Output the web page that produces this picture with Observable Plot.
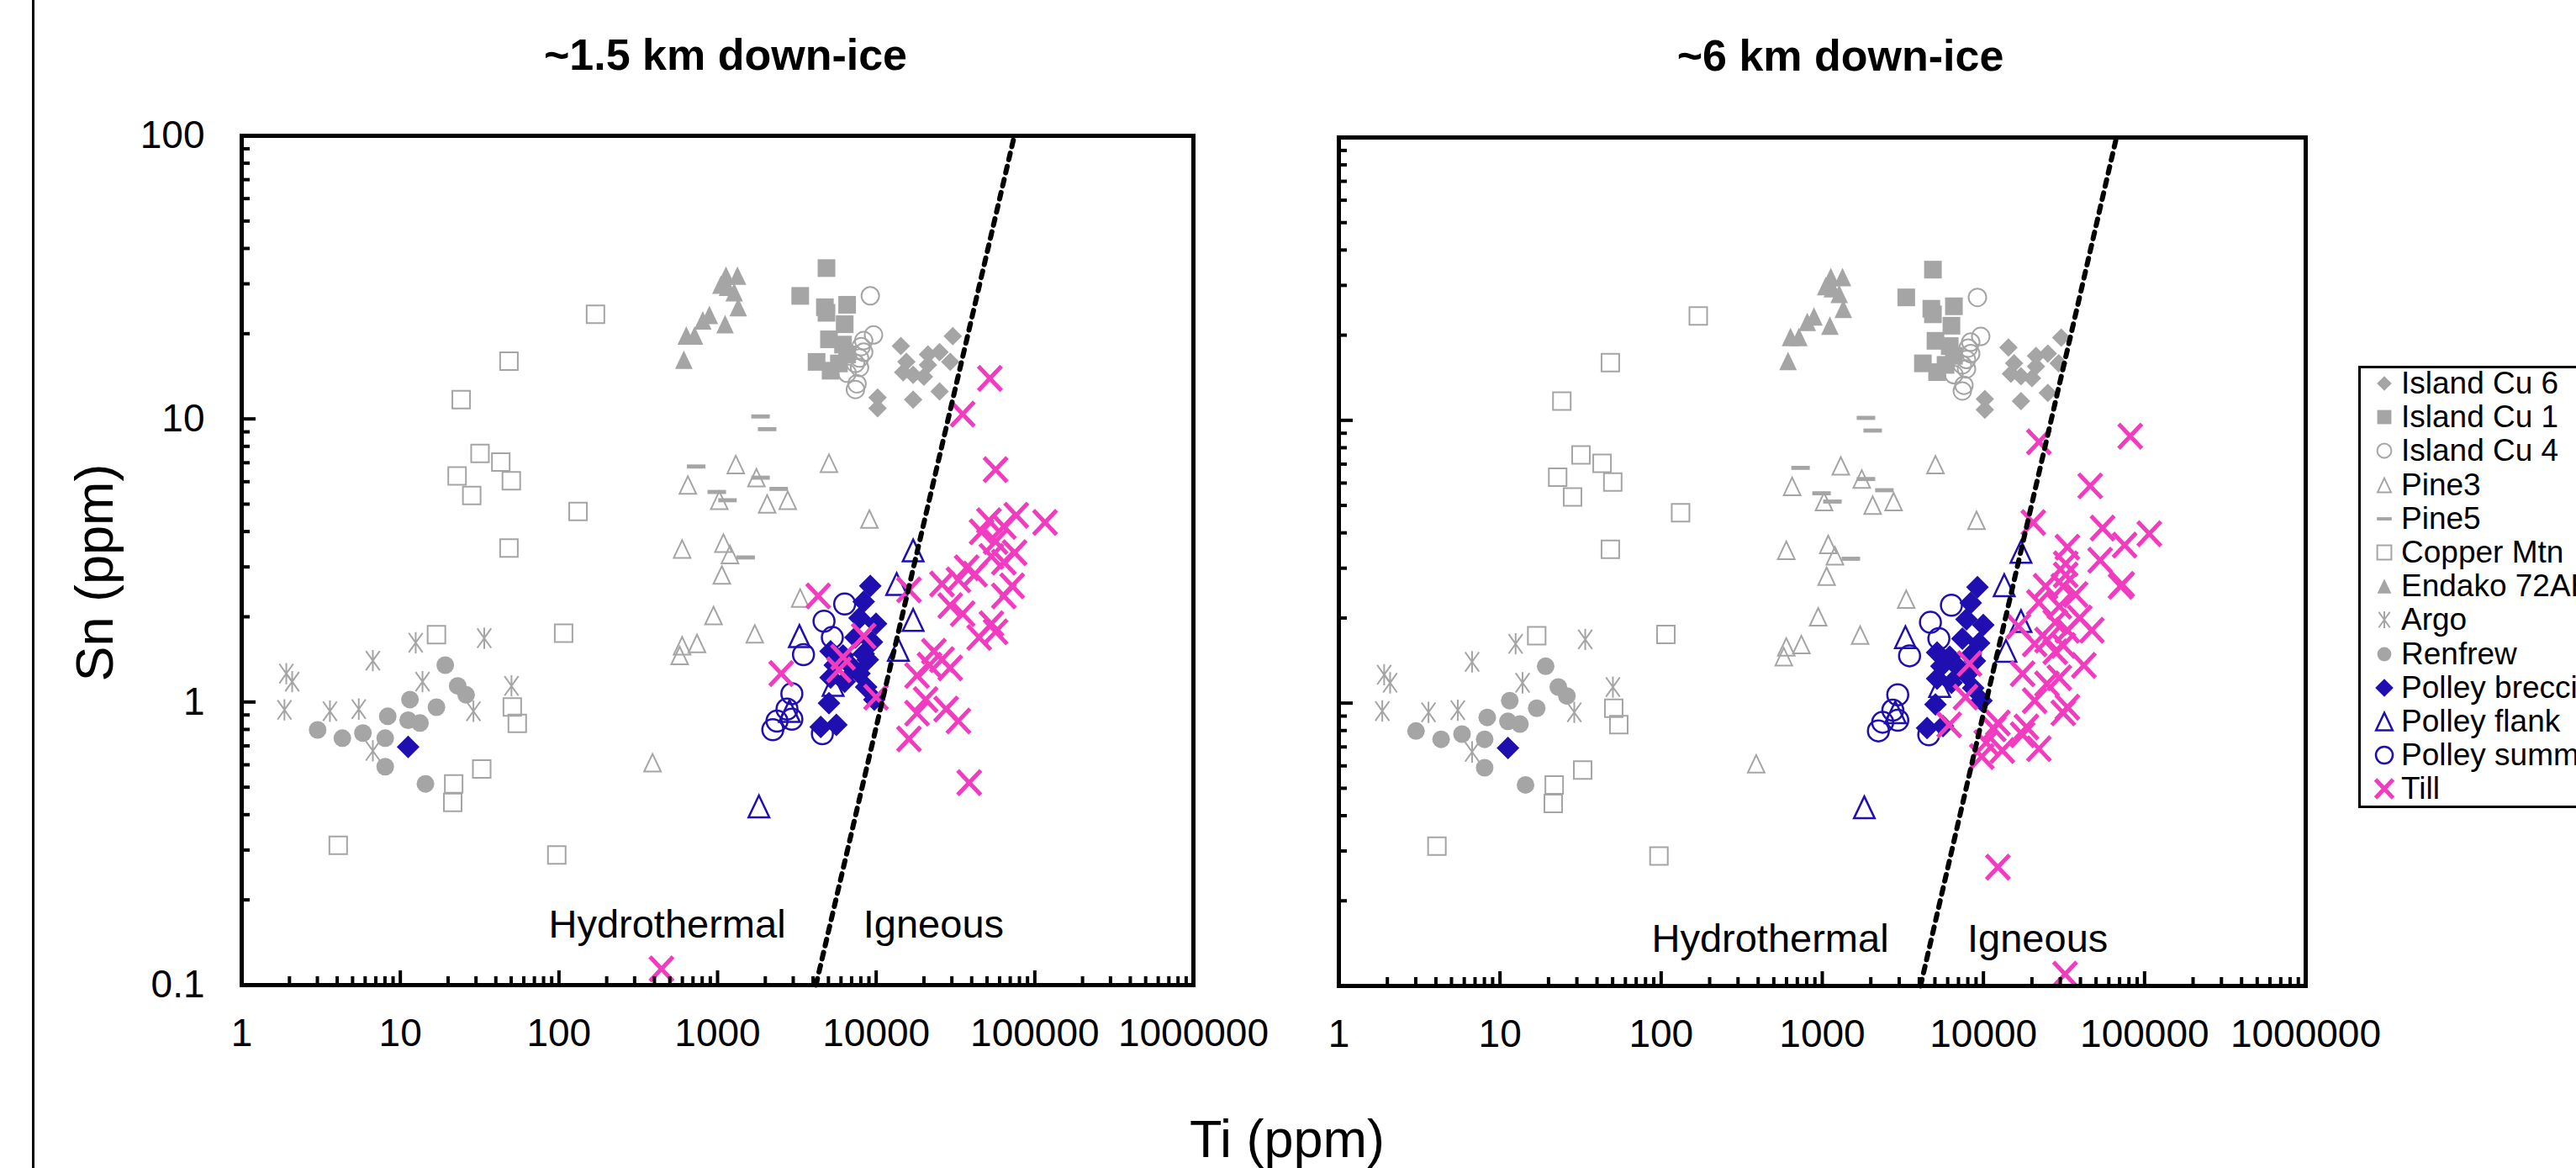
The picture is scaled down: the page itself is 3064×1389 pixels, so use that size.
<!DOCTYPE html>
<html><head><meta charset="utf-8">
<script src="https://cdn.jsdelivr.net/npm/d3@7"></script>
<script src="https://cdn.jsdelivr.net/npm/@observablehq/plot@0.6"></script>
<style>
html,body{margin:0;padding:0;background:#fff;}
body{width:3064px;height:1389px;overflow:hidden;position:relative;font-family:"Liberation Sans",Arial,sans-serif;color:#000;}
#page{position:absolute;left:0;top:0;width:3064px;height:1389px;overflow:hidden;}
.abs{position:absolute;white-space:nowrap;}
</style></head><body><div id="page"></div>
<script>
// ---------------- DATA (Ti ppm, Sn ppm) ----------------
const islandCu6 = [[30400,19.6],[14300,18.1],[25100,17.2],[21200,16.9],[15500,15.9],[29300,15.9],[21200,15.5],[14800,14.6],[17100,14.3],[20000,14.1],[25100,12.5],[10200,11.9],[17100,11.7],[10200,10.9]];
const islandCu1 = [[4860,34.1],[3320,27.2],[4750,24.8],[6560,25.3],[4860,23.7],[6330,21.6],[5040,19.1],[6180,18.3],[6560,16.9],[4210,15.9],[5820,15.7],[5160,14.8]];
const islandCu4 = [[9180,27.2],[9620,19.8],[8340,18.9],[8040,18.0],[8340,17.2],[7850,16.4],[7400,15.7],[7850,15.2],[6560,14.5],[7570,13.3],[7400,12.7]];
const pine3 = [[1303,6.90],[5040,6.97],[650,5.84],[1758,6.20],[1025,5.16],[2054,5.01],[2770,5.16],[9060,4.43],[598,3.47],[1089,3.64],[1198,3.32],[1064,2.81],[3318,2.33],[943,2.02],[1717,1.74],[742,1.61],[598,1.58],[577,1.46],[389,0.61]];
const pine5 = [[1866,10.2],[2054,9.2],[733,6.79],[1866,6.20],[989,5.52],[1155,5.16],[2429,5.66],[1504,3.24]];
const copperMtn = [[170,23.4],[48.4,16.0],[24.2,11.7],[31.8,7.55],[43.0,7.04],[22.8,6.29],[50.1,6.05],[28.2,5.36],[132,4.71],[48.4,3.50],[16.9,1.73],[107,1.75],[50.8,0.96],[54.6,0.84],[32.6,0.58],[21.7,0.514],[21.4,0.442],[4.06,0.312],[96.9,0.288]];
const endako72 = [[1130,32.1],[1335,32.1],[1050,29.8],[1155,29.3],[1273,28.0],[1350,24.8],[888,23.3],[807,22.3],[1115,21.6],[716,19.7],[635,19.7],[613,16.2]];
const argo = [[1.91,1.26],[2.08,1.18],[1.86,0.938],[3.6,0.928],[5.47,0.944],[6.71,1.40],[12.5,1.62],[13.8,1.18],[33.8,1.68],[50.2,1.14],[28.9,0.928],[6.71,0.672]];
const renfrew = [[3.01,0.797],[4.31,0.745],[5.81,0.777],[8.03,0.745],[8.33,0.890],[11.5,1.02],[11.2,0.862],[13.3,0.843],[16.9,0.959],[19.2,1.35],[23.0,1.14],[26.0,1.06],[8.03,0.591],[14.4,0.514]];
const polleyBreccia = [[11.2,0.694],[9180,2.57],[8340,2.26],[9980,1.89],[7850,1.98],[7400,1.69],[9400,1.63],[5160,1.51],[6180,1.46],[8340,1.48],[8850,1.41],[5480,1.35],[7130,1.32],[7850,1.26],[5160,1.22],[6330,1.18],[8640,1.13],[9730,1.02],[5040,0.99],[4470,0.816],[5610,0.83]];
const polleyFlank = [[17100,3.43],[13460,2.61],[17100,1.95],[3280,1.71],[13800,1.53],[5350,1.15],[2840,0.929],[1823,0.428]];
const polleySummit = [[6330,2.22],[4690,1.93],[5290,1.69],[3480,1.47],[2940,1.07],[2740,0.944],[2940,0.87],[2370,0.856],[2230,0.798],[4580,0.773]];
const tillNear = [[52100,13.9],[35100,10.4],[56600,6.62],[116000,4.31],[76400,4.57],[51400,4.37],[63800,4.17],[46200,3.99],[56600,3.69],[74600,3.37],[53300,3.27],[63800,3.12],[37200,2.98],
  [4310,2.37],[16100,2.49],[26000,2.61],[33000,2.70],[42000,2.83],[63800,2.37],[72000,2.57],[29300,2.19],[35100,2.05],[53300,1.89],[44600,1.69],[56600,1.77],[26000,1.41],[21700,1.35],[29300,1.32],[23100,1.51],[18100,1.24],[8340,1.71],[6180,1.44],[5820,1.30],[2520,1.26],[9980,1.04],[20500,1.02],[18100,0.913],[27600,0.944],[33000,0.857],[16100,0.741],[38600,0.519],[443,0.114]];
const tillFar = [[22100,8.39],[81500,8.79],[46000,5.86],[54900,4.16],[107000,3.97],[20400,4.35],[75200,3.62],[33200,3.56],[53000,3.20],[32400,3.11],[32400,2.84],[71000,2.59],[24300,2.59],
  [72600,2.63],[31300,2.59],[37300,2.42],[22100,2.27],[29600,2.20],[39600,2.00],[27900,1.93],[16500,1.87],[33200,1.81],[47100,1.81],[24800,1.67],[20800,1.62],[31300,1.60],[27900,1.52],[42000,1.36],[17500,1.27],[29600,1.23],[24800,1.17],[20800,1.02],[33200,0.968],[31300,0.923],[12300,0.851],[11600,0.811],[6130,0.838],[7740,1.05],[8200,1.38],[18500,0.824],[17500,0.773],[10400,0.725],[13100,0.680],[22100,0.690],[9770,0.647],[12300,0.263],[32100,0.110]];
const boundaryNear = [[4170,0.1],[74300,100]];
const boundaryFar = [[4070,0.1],[66900,100]];
const fieldLabels = ["Hydrothermal","Igneous"];
const fieldLabelNearX = [481,23000], fieldLabelNearY = [0.163,0.163];
const fieldLabelFarX = [475,21700], fieldLabelFarY = [0.146,0.146];
const xTickValues = [1,10,100,1000,10000,100000,1000000];
const yTickValues = [0.1,1,10,100];
const minorSteps = [2,3,4,5,6,7,8,9];
const titles = ["~1.5 km down-ice","~6 km down-ice"];
const xTitle = "Ti (ppm)", yTitle = "Sn (ppm)";

// ---------------- SYMBOLS ----------------
const R = s => Math.sqrt(s/Math.PI);
const symDiamond = {draw(c,s){const r=R(s);c.moveTo(0,-r);c.lineTo(r,0);c.lineTo(0,r);c.lineTo(-r,0);c.closePath();}};
const symSquare = {draw(c,s){const r=R(s);c.moveTo(-r,-r);c.lineTo(r,-r);c.lineTo(r,r);c.lineTo(-r,r);c.closePath();}};
const symTri = {draw(c,s){const r=R(s);c.moveTo(0,-r);c.lineTo(r*0.95,r);c.lineTo(-r*0.95,r);c.closePath();}};
const symDash = {draw(c,s){const r=R(s);const h=r*0.22;c.moveTo(-r,-h);c.lineTo(r,-h);c.lineTo(r,h);c.lineTo(-r,h);c.closePath();}};
const symAst = {draw(c,s){const r=R(s);c.moveTo(0,-r*1.15);c.lineTo(0,r*1.15);c.moveTo(-r*0.75,-r*1.05);c.lineTo(r*0.75,r*1.05);c.moveTo(-r*0.75,r*1.05);c.lineTo(r*0.75,-r*1.05);}};
const symX = {draw(c,s){const r=R(s);c.moveTo(-r*0.95,-r);c.lineTo(r*0.95,r);c.moveTo(-r*0.95,r);c.lineTo(r*0.95,-r);}};
const symCircle = {draw(c,s){const r=R(s);c.moveTo(r,0);c.arc(0,0,r,0,2*Math.PI);}};

const GREY="#a5a5a5", BLUE="#1f0fb0", PINK="#f23cc0";
const refSeries = [
  {name:"Island Cu 6", data:islandCu6, symbol:symDiamond, r:11, fill:GREY, stroke:"none", sw:0},
  {name:"Island Cu 1", data:islandCu1, symbol:symSquare, r:10.5, fill:GREY, stroke:"none", sw:0},
  {name:"Island Cu 4", data:islandCu4, symbol:symCircle, r:10.5, fill:"none", stroke:GREY, sw:2},
  {name:"Pine3", data:pine3, symbol:symTri, r:10.5, fill:"none", stroke:GREY, sw:2},
  {name:"Pine5", data:pine5, symbol:symDash, r:11, fill:GREY, stroke:"none", sw:0},
  {name:"Copper Mtn", data:copperMtn, symbol:symSquare, r:10.5, fill:"none", stroke:GREY, sw:2},
  {name:"Endako 72AB", data:endako72, symbol:symTri, r:11, fill:GREY, stroke:"none", sw:0},
  {name:"Argo", data:argo, symbol:symAst, r:11, fill:"none", stroke:GREY, sw:2},
  {name:"Renfrew", data:renfrew, symbol:symCircle, r:10.5, fill:GREY, stroke:"none", sw:0},
  {name:"Polley breccia", data:polleyBreccia, symbol:symDiamond, r:13.5, fill:BLUE, stroke:"none", sw:0},
  {name:"Polley flank", data:polleyFlank, symbol:symTri, r:13, fill:"none", stroke:BLUE, sw:2.5},
  {name:"Polley summit", data:polleySummit, symbol:symCircle, r:12.5, fill:"none", stroke:BLUE, sw:2.5}
];
const tillStyle = {name:"Till", symbol:symX, r:14.5, fill:"none", stroke:PINK, sw:5};

// ---------------- PANELS ----------------
const page = document.getElementById("page");
function el(tag, css, text){const e=document.createElement(tag);e.className="abs";Object.assign(e.style,css);if(text!=null)e.textContent=text;page.appendChild(e);return e;}

function panel(cfg){
  const {left, width, height, mL, mR, mT, mB, till, boundary, labX, labY, yLabels} = cfg;
  const pw = width-mL-mR, ph = height-mT-mB;
  const xMinor = xTickValues.slice(0,-1).flatMap(d=>minorSteps.map(k=>d*k));
  const yMinor = yTickValues.slice(0,-1).flatMap(d=>minorSteps.map(k=>d*k));
  const marks = [];
  for (const s of [...refSeries, {...tillStyle, data: till}]) {
    marks.push(Plot.dot(s.data, {x:d=>d[0], y:d=>d[1], symbol:s.symbol, r:s.r, fill:s.fill, stroke:s.stroke, strokeWidth:s.sw}));
  }
  marks.push(Plot.line(boundary, {x:d=>d[0], y:d=>d[1], stroke:"#000", strokeWidth:6, strokeDasharray:"8,8"}));
  marks.push(Plot.text(fieldLabels.map((t,i)=>({t, x:labX[i], y:labY[i]})), {x:"x", y:"y", text:"t", fontSize:47, fill:"#000"}));
  marks.push(Plot.tickX(xMinor, {x:d=>d, insetTop:ph-10, stroke:"#000", strokeWidth:4}));
  marks.push(Plot.tickX(xTickValues.slice(1,-1), {x:d=>d, insetTop:ph-17, stroke:"#000", strokeWidth:4}));
  marks.push(Plot.tickY(yMinor, {y:d=>d, insetRight:pw-10, stroke:"#000", strokeWidth:4}));
  marks.push(Plot.tickY(yTickValues.slice(1,-1), {y:d=>d, insetRight:pw-17, stroke:"#000", strokeWidth:4}));
  marks.push(Plot.frame({stroke:"#000", strokeWidth:5}));
  marks.push(Plot.axisX({ticks:xTickValues, tickSize:0, tickPadding:40, tickFormat:d=>String(d), fontSize:46, label:null}));
  if (yLabels) marks.push(Plot.axisY({ticks:yTickValues, tickSize:0, tickPadding:44, tickFormat:d=>String(d), fontSize:46, label:null}));
  const svg = Plot.plot({
    width, height, marginLeft:mL, marginRight:mR, marginTop:mT, marginBottom:mB,
    x:{type:"log", domain:[1,1e6]},
    y:{type:"log", domain:[0.1,100], axis: yLabels ? undefined : null},
    style:{fontFamily:"Liberation Sans, Arial, sans-serif", background:"transparent", overflow:"visible", maxWidth:"none", color:"#000"},
    marks
  });
  const wrap = el("div", {left:left+"px", top:"0px", width:width+"px", height:height+"px"});
  wrap.appendChild(svg);
}

panel({left:0, width:1440, height:1300, mL:287, mR:21, mT:161, mB:129, till:tillNear, boundary:boundaryNear, labX:fieldLabelNearX, labY:fieldLabelNearY, yLabels:true});
panel({left:1450, width:1310, height:1300, mL:142, mR:18, mT:163, mB:128, till:tillFar, boundary:boundaryFar, labX:fieldLabelFarX, labY:fieldLabelFarY, yLabels:false});

// ---------------- TEXT ----------------
el("div", {left:"38px", top:"0px", width:"3px", height:"1389px", background:"#000"});
el("div", {left:"863px", top:"65px", transform:"translate(-50%,-50%)", font:"bold 52px 'Liberation Sans', Arial, sans-serif", lineHeight:"52px"}, titles[0]);
el("div", {left:"2189px", top:"66px", transform:"translate(-50%,-50%)", font:"bold 52px 'Liberation Sans', Arial, sans-serif", lineHeight:"52px"}, titles[1]);
el("div", {left:"1531px", top:"1323px", transform:"translate(-50%,0)", font:"63px 'Liberation Sans', Arial, sans-serif", lineHeight:"63px"}, xTitle);
el("div", {left:"112px", top:"681px", transform:"translate(-50%,-50%) rotate(-90deg)", font:"63px 'Liberation Sans', Arial, sans-serif", lineHeight:"63px"}, yTitle);

// ---------------- LEGEND ----------------
const legItems = [...refSeries, tillStyle];
el("div", {left:"2805px", top:"435px", width:"420px", height:"520px", border:"3px solid #000", background:"#fff"});
legItems.forEach((s,i)=>{
  const cy = 456 + 40.2*i;
  const ns = "http://www.w3.org/2000/svg";
  const sv = document.createElementNS(ns,"svg");
  sv.setAttribute("width",36); sv.setAttribute("height",36);
  sv.style.position="absolute"; sv.style.left=(2836-18)+"px"; sv.style.top=(cy-18)+"px"; sv.style.overflow="visible";
  const p = document.createElementNS(ns,"path");
  const rr = s.name==="Till" ? 11 : (s.r*0.8);
  p.setAttribute("d", d3.symbol(s.symbol, Math.PI*rr*rr)());
  p.setAttribute("transform","translate(18,18)");
  p.setAttribute("fill", s.fill); p.setAttribute("stroke", s.stroke); p.setAttribute("stroke-width", s.sw);
  sv.appendChild(p); page.appendChild(sv);
  el("div", {left:"2856px", top:(cy-20)+"px", font:"37px 'Liberation Sans', Arial, sans-serif", lineHeight:"40px"}, s.name);
});
</script>
</body></html>
